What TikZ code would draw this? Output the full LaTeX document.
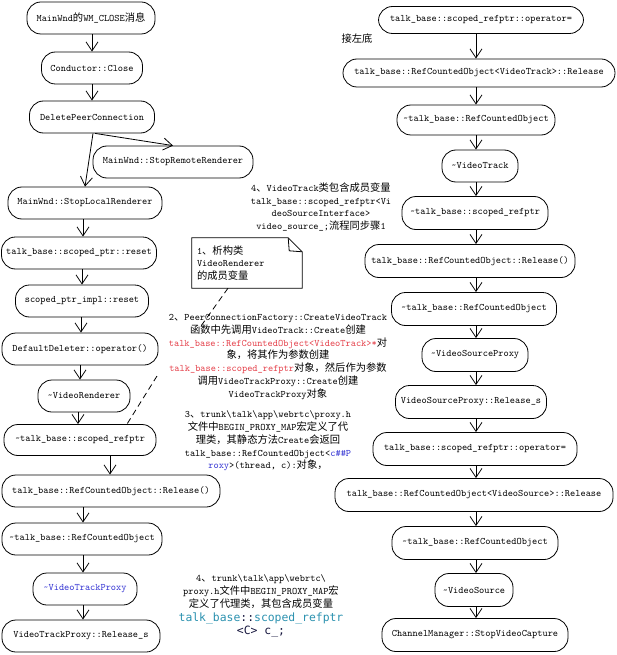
\documentclass[tikz,border=0pt]{standalone}
\usepackage{fontspec}
\newfontfamily\zhfont{Noto Sans CJK SC}[Scale=1.04]
\newfontfamily\consfont{DejaVu Sans Mono}
\usetikzlibrary{arrows.meta}
\newcommand\zh[1]{{\zhfont #1}}
\definecolor{ublue}{RGB}{50,50,210}
\definecolor{ured}{RGB}{228,62,72}
\definecolor{uteal}{RGB}{43,145,175}
\definecolor{unavy}{RGB}{20,20,60}
\begin{document}
\begin{tikzpicture}[x=1pt,y=-1pt,
  every node/.style={font=\ttfamily\fontsize{9.9}{12.8}\selectfont},
  flow/.style={draw, line width=0.8pt, rounded corners=14pt, minimum height=32pt, inner xsep=3pt, inner ysep=2pt},
  arr/.style={line width=0.8pt, -{Straight Barb[length=9pt,width=12pt,line width=0.8pt]}},
  txt/.style={align=center, inner sep=0pt},
  conn/.style={line width=0.8pt, dash pattern=on 6pt off 4pt}
]
\useasboundingbox (0,0) rectangle (616,655);

% left column
\node[flow, minimum width=128pt] (L1) at (91,18) {MainWnd\zh{的}WM\_CLOSE\zh{消息}};
\node[flow, minimum width=101pt] (L2) at (92,68) {Conductor::Close};
\node[flow, minimum width=125pt] (L3) at (92,117) {DeletePeerConnection};
\node[flow, minimum width=160pt] (L4) at (173,162) {MainWnd::StopRemoteRenderer};
\node[flow, minimum width=154pt] (L5) at (85,203) {MainWnd::StopLocalRenderer};
\node[flow, minimum width=155pt] (L6) at (79,253) {talk\_base::scoped\_ptr::reset};
\node[flow, minimum width=133pt] (L7) at (82,301) {scoped\_ptr\_impl::reset};
\node[flow, minimum width=156pt] (L8) at (80,349) {DefaultDeleter::operator()};
\node[flow, minimum width=92pt] (L9) at (84,396) {\textasciitilde VideoRenderer};
\node[flow, minimum width=152pt, minimum height=31pt] (L10) at (80,440) {\textasciitilde talk\_base::scoped\_refptr};
\node[flow, minimum width=218pt] (L11) at (111,491) {talk\_base::RefCountedObject::Release()};
\node[flow, minimum width=160pt] (L12) at (82,539) {\textasciitilde talk\_base::RefCountedObject};
\node[flow, minimum width=104pt] (L13) at (85,589) {\textcolor{ublue}{\textasciitilde VideoTrackProxy}};
\node[flow, minimum width=158pt] (L14) at (81,636) {VideoTrackProxy::Release\_s};

% right column
\node[flow, minimum width=205pt, minimum height=27pt] (R1) at (481,20) {talk\_base::scoped\_refptr::operator=};
\node[flow, minimum width=272pt, minimum height=28pt] (R2) at (479,73) {talk\_base::RefCountedObject<VideoTrack>::Release};
\node[flow, minimum width=158pt, minimum height=30pt] (R3) at (476,120) {\textasciitilde talk\_base::RefCountedObject};
\node[flow, minimum width=76pt] (R4) at (480,166) {\textasciitilde VideoTrack};
\node[flow, minimum width=146pt, minimum height=33pt] (R5) at (475,213) {\textasciitilde talk\_base::scoped\_refptr};
\node[flow, minimum width=210pt, minimum height=33pt] (R6) at (470,261) {talk\_base::RefCountedObject::Release()};
\node[flow, minimum width=165pt, minimum height=33pt] (R7) at (474,309) {\textasciitilde talk\_base::RefCountedObject};
\node[flow, minimum width=106pt, minimum height=33pt] (R8) at (475,355) {\textasciitilde VideoSourceProxy};
\node[flow, minimum width=151pt, minimum height=33pt] (R9) at (471,402) {VideoSourceProxy::Release\_s};
\node[flow, minimum width=204pt, minimum height=33pt] (R10) at (475,449) {talk\_base::scoped\_refptr::operator=};
\node[flow, minimum width=278pt, minimum height=33pt] (R11) at (474,495) {talk\_base::RefCountedObject<VideoSource>::Release};
\node[flow, minimum width=166pt, minimum height=33pt] (R12) at (475,543) {\textasciitilde talk\_base::RefCountedObject};
\node[flow, minimum width=78pt, minimum height=33pt] (R13) at (474,590) {\textasciitilde VideoSource};
\node[flow, minimum width=186pt, minimum height=33pt] (R14) at (475,635) {ChannelManager::StopVideoCapture};

% texts
\node[txt] (jzd) at (357,39) {\zh{接左底}};
\node[txt] (t4a) at (321,207) {4\zh{、}VideoTrack\zh{类包含成员变量}\\talk\_base::scoped\_refptr<Vi\\deoSourceInterface>\\video\_source\_;\zh{流程同步骤}1};
\node[txt] (t2) at (278,357) {2\zh{、}PeerConnectionFactory::CreateVideoTrack\\\zh{函数中先调用}VideoTrack::Create\zh{创建}\\\textcolor{ured}{talk\_base::RefCountedObject<VideoTrack>*}\zh{对}\\\zh{象，将其作为参数创建}\\\textcolor{ured}{talk\_base::scoped\_refptr}\zh{对象，然后作为参数}\\\zh{调用}VideoTrackProxy::Create\zh{创建}\\VideoTrackProxy\zh{对象}};
\node[txt] (t3) at (268,441) {3\zh{、}trunk\textbackslash talk\textbackslash app\textbackslash webrtc\textbackslash proxy.h\\\zh{文件中}BEGIN\_PROXY\_MAP\zh{宏定义了代}\\\zh{理类，其静态方法}Create\zh{会返回}\\talk\_base::RefCountedObject<\textcolor{ublue}{c\#\#P}\\\textcolor{ublue}{roxy}>(thread, c):\zh{对象，}};
\node[txt] (t4b) at (261,606) {4\zh{、}trunk\textbackslash talk\textbackslash app\textbackslash webrtc\textbackslash\\proxy.h\zh{文件中}BEGIN\_PROXY\_MAP\zh{宏}\\\zh{定义了代理类，其包含成员变量}\\[1pt]{\consfont\fontsize{11.4}{13}\selectfont\textcolor{uteal}{talk\_base}\textcolor{unavy}{::}\textcolor{uteal}{scoped\_refptr}}\\{\consfont\fontsize{11.4}{13}\selectfont\textcolor{unavy}{<C> c\_;}}};

% note
\node[align=left, text width=100pt, inner sep=5pt, minimum height=50pt] (note) at (247,263) {1\zh{、析构类}\\VideoRenderer\\\zh{的成员变量}};
\draw[line width=0.8pt] (note.north west) -- ([xshift=-14pt]note.north east) -- ([yshift=-14pt]note.north east) -- (note.south east) -- (note.south west) -- cycle;
\draw[line width=0.8pt] ([xshift=-14pt]note.north east) -- ([xshift=-13pt,yshift=-13pt]note.north east) -- ([yshift=-14pt]note.north east);

% dashed connectors
\coordinate (c1) at (201,326);
\coordinate (c2) at (157,376);
\draw[conn] ([xshift=-19pt]note.south) -- (c1);
\draw[conn] (c2) -- (L10.north -| 127,0);

% arrows left
\draw[arr] (L1.south -| 92,0) -- (L2.north -| 92,0);
\draw[arr] (L2.south -| 92,0) -- (L3.north -| 92,0);
\draw[arr] (L3.south -| 95,0) -- (L4.north);
\draw[arr] (L3.south -| 93,0) -- (L5.north);
\draw[arr] (L5.south -| 83,0) -- (L6.north -| 83,0);
\draw[arr] (L6.south -| 82,0) -- (L7.north -| 82,0);
\draw[arr] (L7.south -| 81,0) -- (L8.north -| 81,0);
\draw[arr] (L8.south -| 80,0) -- (L9.north -| 80,0);
\draw[arr] (L9.south -| 78,0) -- (L10.north -| 78,0);
\draw[arr] (L10.south -| 110,0) -- (L11.north -| 110,0);
\draw[arr] (L11.south -| 83,0) -- (L12.north -| 83,0);
\draw[arr] (L12.south -| 83,0) -- (L13.north -| 83,0);
\draw[arr] (L13.south -| 83,0) -- (L14.north -| 83,0);

% arrows right
\foreach \a/\b in {R1/R2,R2/R3,R3/R4,R4/R5,R5/R6,R6/R7,R7/R8,R8/R9,R9/R10,R10/R11,R11/R12,R12/R13,R13/R14}
  \draw[arr] (\a.south -| 476,0) -- (\b.north -| 476,0);
\end{tikzpicture}
\end{document}
